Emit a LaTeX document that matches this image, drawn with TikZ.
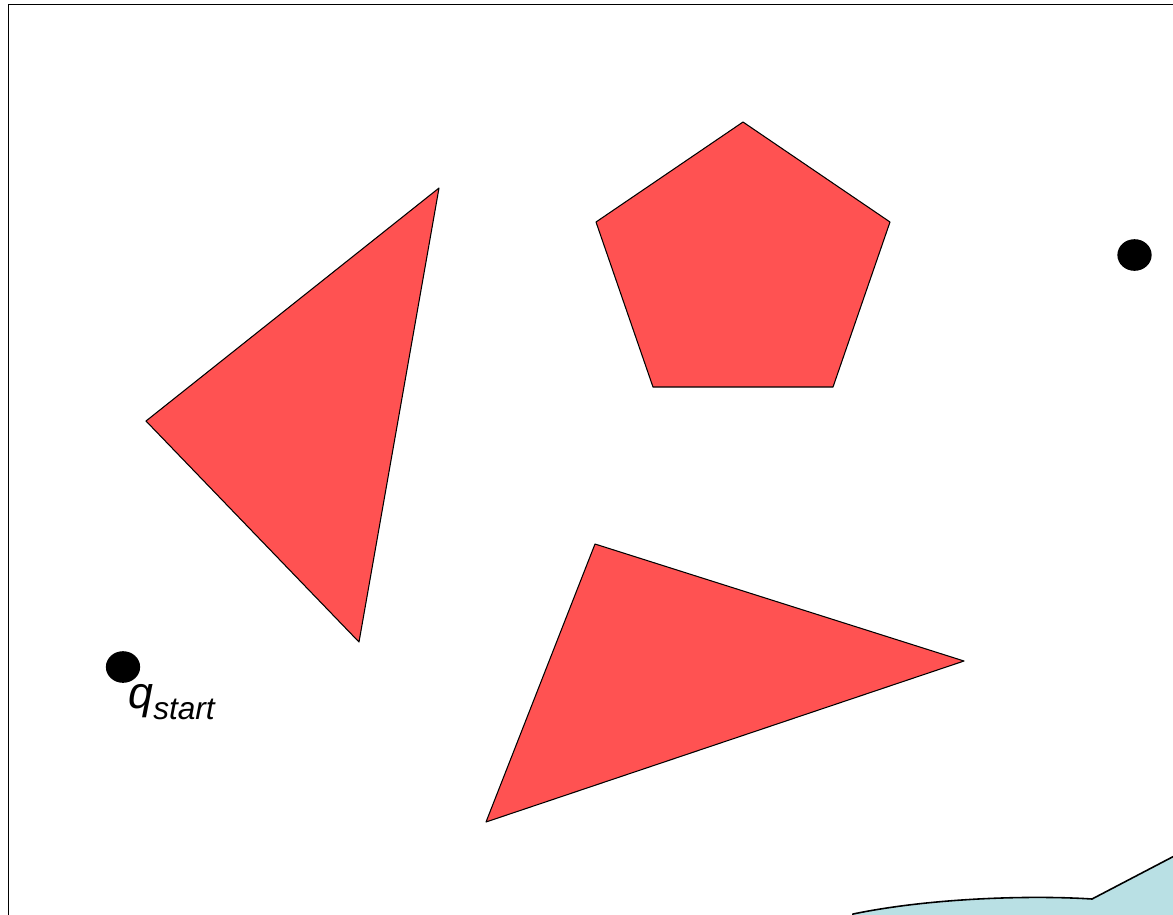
\documentclass[tikz,border=0pt]{standalone}
\usepackage{fontspec}
\setmainfont{Liberation Sans}
\usetikzlibrary{positioning, shapes.geometric}
\definecolor{OR}{RGB}{255,82,82}
\definecolor{FS}{RGB}{185,224,228}
\begin{document}
\begin{tikzpicture}[x=0.02cm, y=-0.02cm,
  obst/.style={draw=black, fill=OR, line width=0.6pt, line join=round},
  conf/.style={ellipse, fill=black, inner sep=0pt, minimum width=19.5pt, minimum height=18pt},
  lbl/.style={inner sep=0pt, font=\fontsize{25.5}{30}\selectfont\itshape}
]
\useasboundingbox (0,0) rectangle (1173,914);
\clip (0,0) rectangle (1173,914);

% Workspace border
\draw[line width=0.9pt] (8.5,4.5) rectangle (1200,940);

% Free region (bottom right)
\draw[fill=FS, line width=0.9pt]
  (853,914) .. controls (930,898) and (1030,895) .. (1092,899)
  -- (1180,853) -- (1180,930) -- (850,930) -- cycle;

% Obstacles
\draw[obst] (439,188) -- (146,421) -- (359,642) -- cycle;
\draw[obst] (743,122) -- (890,222) -- (833,387) -- (653,387) -- (596,222) -- cycle;
\draw[obst] (595,544) -- (964,661) -- (486,822) -- cycle;

% Configurations
\node[conf] (start) at (123,667) {};
\node[conf] (goal)  at (1134.5,255) {};
\node[lbl, anchor=base west] (startlbl) at (128,708)
  {q\raisebox{-6.8pt}{\fontsize{18}{20}\selectfont start}};
\end{tikzpicture}
\end{document}
